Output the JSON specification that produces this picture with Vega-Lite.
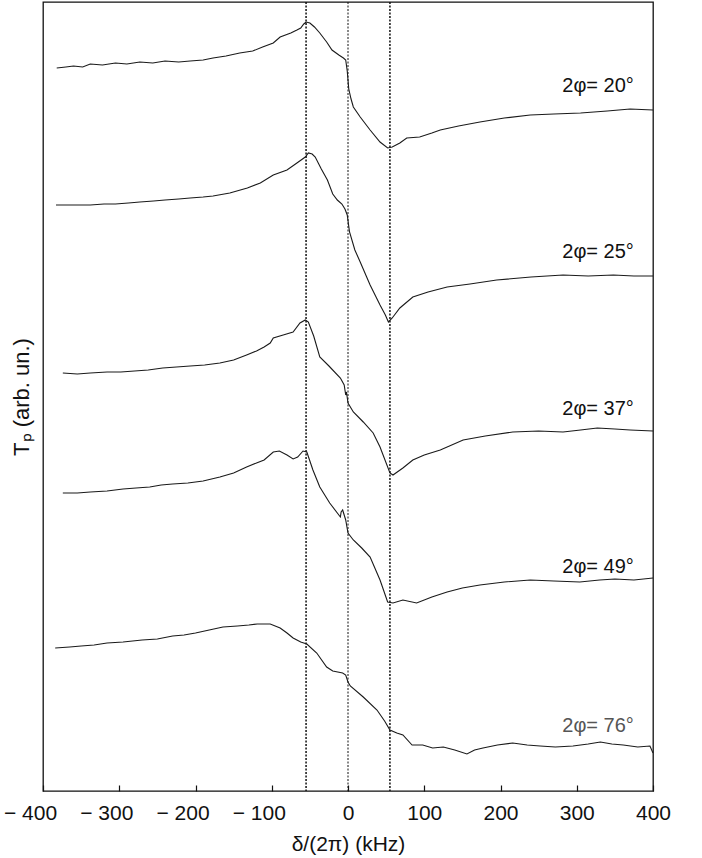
{
  "$schema": "https://vega.github.io/schema/vega-lite/v6.json",
  "width": 610,
  "height": 789,
  "autosize": {"type": "none"},
  "padding": {"left": 43, "top": 2, "right": 49, "bottom": 67},
  "background": "white",
  "view": {"stroke": "#111", "strokeWidth": 1.3},
  "config": {
    "font": "Liberation Sans",
    "axis": {"grid": false, "titleFontWeight": "normal", "titleColor": "#111", "labelColor": "#111"}
  },
  "datasets": {
    "curves": [
      {"s": "20", "x": -382, "y": 723}, {"s": "20", "x": -370, "y": 724}, {"s": "20", "x": -360, "y": 725}, {"s": "20", "x": -348, "y": 724}, {"s": "20", "x": -338, "y": 727}, {"s": "20", "x": -322, "y": 726}, {"s": "20", "x": -305, "y": 728}, {"s": "20", "x": -290, "y": 727}, {"s": "20", "x": -273, "y": 729}, {"s": "20", "x": -256, "y": 728}, {"s": "20", "x": -240, "y": 730}, {"s": "20", "x": -222, "y": 729}, {"s": "20", "x": -207, "y": 730}, {"s": "20", "x": -190, "y": 731}, {"s": "20", "x": -177, "y": 733}, {"s": "20", "x": -160, "y": 735}, {"s": "20", "x": -142, "y": 738}, {"s": "20", "x": -125, "y": 740}, {"s": "20", "x": -112, "y": 744}, {"s": "20", "x": -98, "y": 748}, {"s": "20", "x": -89, "y": 754}, {"s": "20", "x": -75, "y": 758}, {"s": "20", "x": -67, "y": 761}, {"s": "20", "x": -62, "y": 763}, {"s": "20", "x": -58, "y": 767}, {"s": "20", "x": -55, "y": 769}, {"s": "20", "x": -50, "y": 768}, {"s": "20", "x": -44, "y": 764}, {"s": "20", "x": -37, "y": 758}, {"s": "20", "x": -28, "y": 749}, {"s": "20", "x": -21, "y": 741}, {"s": "20", "x": -12, "y": 736}, {"s": "20", "x": -6, "y": 733}, {"s": "20", "x": -3, "y": 731}, {"s": "20", "x": -1, "y": 720}, {"s": "20", "x": 1, "y": 702}, {"s": "20", "x": 4, "y": 692}, {"s": "20", "x": 7, "y": 684}, {"s": "20", "x": 16, "y": 674}, {"s": "20", "x": 29, "y": 661}, {"s": "20", "x": 42, "y": 649}, {"s": "20", "x": 52, "y": 643}, {"s": "20", "x": 58, "y": 644}, {"s": "20", "x": 68, "y": 648}, {"s": "20", "x": 77, "y": 653}, {"s": "20", "x": 94, "y": 654}, {"s": "20", "x": 110, "y": 658}, {"s": "20", "x": 121, "y": 661}, {"s": "20", "x": 145, "y": 665}, {"s": "20", "x": 173, "y": 669}, {"s": "20", "x": 205, "y": 673}, {"s": "20", "x": 239, "y": 676}, {"s": "20", "x": 270, "y": 677}, {"s": "20", "x": 305, "y": 678}, {"s": "20", "x": 340, "y": 680}, {"s": "20", "x": 370, "y": 682}, {"s": "20", "x": 400, "y": 681},

      {"s": "25", "x": -383, "y": 586}, {"s": "25", "x": -360, "y": 586}, {"s": "25", "x": -338, "y": 586}, {"s": "25", "x": -320, "y": 587}, {"s": "25", "x": -305, "y": 587}, {"s": "25", "x": -288, "y": 588}, {"s": "25", "x": -273, "y": 589}, {"s": "25", "x": -255, "y": 590}, {"s": "25", "x": -240, "y": 591}, {"s": "25", "x": -222, "y": 592}, {"s": "25", "x": -207, "y": 593}, {"s": "25", "x": -190, "y": 594}, {"s": "25", "x": -177, "y": 595}, {"s": "25", "x": -155, "y": 598}, {"s": "25", "x": -132, "y": 603}, {"s": "25", "x": -115, "y": 608}, {"s": "25", "x": -98, "y": 616}, {"s": "25", "x": -80, "y": 621}, {"s": "25", "x": -67, "y": 628}, {"s": "25", "x": -56, "y": 634}, {"s": "25", "x": -52, "y": 638}, {"s": "25", "x": -47, "y": 637}, {"s": "25", "x": -43, "y": 634}, {"s": "25", "x": -35, "y": 622}, {"s": "25", "x": -27, "y": 611}, {"s": "25", "x": -20, "y": 597}, {"s": "25", "x": -14, "y": 591}, {"s": "25", "x": -8, "y": 587}, {"s": "25", "x": -4, "y": 582}, {"s": "25", "x": -1, "y": 576}, {"s": "25", "x": 2, "y": 559}, {"s": "25", "x": 9, "y": 541}, {"s": "25", "x": 16, "y": 529}, {"s": "25", "x": 29, "y": 506}, {"s": "25", "x": 42, "y": 486}, {"s": "25", "x": 49, "y": 476}, {"s": "25", "x": 53, "y": 469}, {"s": "25", "x": 58, "y": 473}, {"s": "25", "x": 68, "y": 483}, {"s": "25", "x": 85, "y": 494}, {"s": "25", "x": 105, "y": 499}, {"s": "25", "x": 130, "y": 504}, {"s": "25", "x": 160, "y": 507}, {"s": "25", "x": 195, "y": 511}, {"s": "25", "x": 240, "y": 514}, {"s": "25", "x": 282, "y": 516}, {"s": "25", "x": 315, "y": 515}, {"s": "25", "x": 348, "y": 516}, {"s": "25", "x": 375, "y": 515}, {"s": "25", "x": 400, "y": 515},

      {"s": "37", "x": -374, "y": 418}, {"s": "37", "x": -355, "y": 417}, {"s": "37", "x": -338, "y": 418}, {"s": "37", "x": -316, "y": 419}, {"s": "37", "x": -298, "y": 419}, {"s": "37", "x": -280, "y": 420}, {"s": "37", "x": -262, "y": 421}, {"s": "37", "x": -243, "y": 423}, {"s": "37", "x": -225, "y": 424}, {"s": "37", "x": -207, "y": 425}, {"s": "37", "x": -188, "y": 426}, {"s": "37", "x": -168, "y": 428}, {"s": "37", "x": -150, "y": 431}, {"s": "37", "x": -133, "y": 436}, {"s": "37", "x": -120, "y": 440}, {"s": "37", "x": -110, "y": 444}, {"s": "37", "x": -102, "y": 448}, {"s": "37", "x": -98, "y": 453}, {"s": "37", "x": -85, "y": 456}, {"s": "37", "x": -72, "y": 459}, {"s": "37", "x": -63, "y": 468}, {"s": "37", "x": -56, "y": 471}, {"s": "37", "x": -52, "y": 469}, {"s": "37", "x": -45, "y": 455}, {"s": "37", "x": -37, "y": 434}, {"s": "37", "x": -25, "y": 425}, {"s": "37", "x": -10, "y": 413}, {"s": "37", "x": -5, "y": 406}, {"s": "37", "x": -3, "y": 396}, {"s": "37", "x": -2, "y": 399}, {"s": "37", "x": 0, "y": 388}, {"s": "37", "x": 7, "y": 379}, {"s": "37", "x": 20, "y": 369}, {"s": "37", "x": 33, "y": 358}, {"s": "37", "x": 42, "y": 344}, {"s": "37", "x": 55, "y": 318}, {"s": "37", "x": 59, "y": 316}, {"s": "37", "x": 72, "y": 323}, {"s": "37", "x": 85, "y": 331}, {"s": "37", "x": 100, "y": 336}, {"s": "37", "x": 121, "y": 341}, {"s": "37", "x": 151, "y": 351}, {"s": "37", "x": 180, "y": 355}, {"s": "37", "x": 216, "y": 359}, {"s": "37", "x": 250, "y": 360}, {"s": "37", "x": 282, "y": 359}, {"s": "37", "x": 305, "y": 361}, {"s": "37", "x": 327, "y": 363}, {"s": "37", "x": 350, "y": 362}, {"s": "37", "x": 370, "y": 361}, {"s": "37", "x": 400, "y": 360},

      {"s": "49", "x": -374, "y": 298}, {"s": "49", "x": -355, "y": 298}, {"s": "49", "x": -338, "y": 299}, {"s": "49", "x": -316, "y": 300}, {"s": "49", "x": -295, "y": 302}, {"s": "49", "x": -278, "y": 303}, {"s": "49", "x": -260, "y": 304}, {"s": "49", "x": -245, "y": 306}, {"s": "49", "x": -230, "y": 307}, {"s": "49", "x": -210, "y": 308}, {"s": "49", "x": -190, "y": 310}, {"s": "49", "x": -168, "y": 314}, {"s": "49", "x": -150, "y": 318}, {"s": "49", "x": -133, "y": 324}, {"s": "49", "x": -120, "y": 328}, {"s": "49", "x": -110, "y": 331}, {"s": "49", "x": -98, "y": 339}, {"s": "49", "x": -90, "y": 340}, {"s": "49", "x": -80, "y": 336}, {"s": "49", "x": -72, "y": 332}, {"s": "49", "x": -66, "y": 334}, {"s": "49", "x": -59, "y": 340}, {"s": "49", "x": -54, "y": 339}, {"s": "49", "x": -46, "y": 321}, {"s": "49", "x": -37, "y": 304}, {"s": "49", "x": -24, "y": 288}, {"s": "49", "x": -10, "y": 274}, {"s": "49", "x": -9, "y": 279}, {"s": "49", "x": -7, "y": 281}, {"s": "49", "x": -3, "y": 271}, {"s": "49", "x": 0, "y": 258}, {"s": "49", "x": 7, "y": 251}, {"s": "49", "x": 18, "y": 243}, {"s": "49", "x": 29, "y": 234}, {"s": "49", "x": 42, "y": 211}, {"s": "49", "x": 52, "y": 189}, {"s": "49", "x": 59, "y": 188}, {"s": "49", "x": 72, "y": 191}, {"s": "49", "x": 90, "y": 188}, {"s": "49", "x": 110, "y": 194}, {"s": "49", "x": 130, "y": 199}, {"s": "49", "x": 150, "y": 203}, {"s": "49", "x": 173, "y": 206}, {"s": "49", "x": 205, "y": 209}, {"s": "49", "x": 239, "y": 211}, {"s": "49", "x": 270, "y": 210}, {"s": "49", "x": 304, "y": 209}, {"s": "49", "x": 330, "y": 211}, {"s": "49", "x": 350, "y": 212}, {"s": "49", "x": 375, "y": 211}, {"s": "49", "x": 400, "y": 213},

      {"s": "76", "x": -384, "y": 143}, {"s": "76", "x": -365, "y": 144}, {"s": "76", "x": -350, "y": 145}, {"s": "76", "x": -333, "y": 146}, {"s": "76", "x": -316, "y": 148}, {"s": "76", "x": -295, "y": 149}, {"s": "76", "x": -270, "y": 151}, {"s": "76", "x": -250, "y": 152}, {"s": "76", "x": -230, "y": 155}, {"s": "76", "x": -215, "y": 156}, {"s": "76", "x": -200, "y": 158}, {"s": "76", "x": -182, "y": 161}, {"s": "76", "x": -164, "y": 164}, {"s": "76", "x": -145, "y": 165}, {"s": "76", "x": -130, "y": 166}, {"s": "76", "x": -119, "y": 167}, {"s": "76", "x": -102, "y": 167}, {"s": "76", "x": -89, "y": 163}, {"s": "76", "x": -80, "y": 158}, {"s": "76", "x": -72, "y": 153}, {"s": "76", "x": -62, "y": 149}, {"s": "76", "x": -54, "y": 147}, {"s": "76", "x": -41, "y": 138}, {"s": "76", "x": -28, "y": 124}, {"s": "76", "x": -20, "y": 120}, {"s": "76", "x": -7, "y": 118}, {"s": "76", "x": -3, "y": 116}, {"s": "76", "x": 0, "y": 109}, {"s": "76", "x": 3, "y": 105}, {"s": "76", "x": 20, "y": 94}, {"s": "76", "x": 38, "y": 81}, {"s": "76", "x": 48, "y": 70}, {"s": "76", "x": 55, "y": 61}, {"s": "76", "x": 64, "y": 58}, {"s": "76", "x": 72, "y": 56}, {"s": "76", "x": 84, "y": 46}, {"s": "76", "x": 98, "y": 46}, {"s": "76", "x": 111, "y": 43}, {"s": "76", "x": 125, "y": 44}, {"s": "76", "x": 140, "y": 41}, {"s": "76", "x": 156, "y": 37}, {"s": "76", "x": 166, "y": 41}, {"s": "76", "x": 177, "y": 43}, {"s": "76", "x": 196, "y": 46}, {"s": "76", "x": 216, "y": 48}, {"s": "76", "x": 235, "y": 46}, {"s": "76", "x": 252, "y": 45}, {"s": "76", "x": 272, "y": 44}, {"s": "76", "x": 295, "y": 45}, {"s": "76", "x": 315, "y": 47}, {"s": "76", "x": 331, "y": 49}, {"s": "76", "x": 346, "y": 47}, {"s": "76", "x": 361, "y": 46}, {"s": "76", "x": 380, "y": 44}, {"s": "76", "x": 396, "y": 45}, {"s": "76", "x": 400, "y": 38}
    ],
    "labels": [
      {"x": 281, "y": 699, "t": "2φ= 20°", "gray": false},
      {"x": 281, "y": 533, "t": "2φ= 25°", "gray": false},
      {"x": 281, "y": 376, "t": "2φ= 37°", "gray": false},
      {"x": 281, "y": 218, "t": "2φ= 49°", "gray": false},
      {"x": 281, "y": 59, "t": "2φ= 76°", "gray": true}
    ],
    "refs": [{"x": -55}, {"x": 0}, {"x": 55}]
  },
  "layer": [
    {
      "data": {"name": "refs"},
      "mark": {"type": "rule", "color": "#111", "strokeDash": [2, 1.5]},
      "encoding": {
        "x": {"field": "x", "type": "quantitative", "scale": {"domain": [-400, 400], "nice": false, "zero": false}},
        "strokeWidth": {"condition": {"test": "datum.x == 0", "value": 1}, "value": 1.5}
      }
    },
    {
      "data": {"name": "curves"},
      "mark": {"type": "line", "color": "#1a1a1a", "strokeWidth": 1.1},
      "encoding": {
        "x": {
          "field": "x", "type": "quantitative",
          "scale": {"domain": [-400, 400], "nice": false, "zero": false},
          "axis": {
            "title": "δ/(2π) (kHz)",
            "values": [-400, -300, -200, -100, 0, 100, 200, 300, 400],
            "labelExpr": "datum.value < 0 ? '− ' + abs(datum.value) : datum.label",
            "labelOffset": {"condition": {"test": "datum.value < 0", "value": -13}, "value": 0},
            "labelFlush": false,
            "labelFont": "Liberation Sans Narrow, Arial Narrow, Liberation Sans",
            "labelFontSize": 21,
            "titleFont": "Liberation Sans Narrow, Arial Narrow, Liberation Sans",
            "titleFontSize": 21,
            "tickSize": -6,
            "tickColor": "#111",
            "tickWidth": 1.2,
            "labelPadding": 17,
            "titlePadding": 10,
            "domain": false
          }
        },
        "y": {
          "field": "y", "type": "quantitative",
          "scale": {"domain": [0, 789], "nice": false, "zero": false},
          "axis": {
            "title": "Tₚ (arb. un.)",
            "titleFont": "Liberation Sans Narrow, Arial Narrow, Liberation Sans",
            "labels": false,
            "ticks": false,
            "domain": false,
            "titleFontSize": 22,
            "titlePadding": 10
          }
        },
        "detail": {"field": "s", "type": "nominal"}
      }
    },
    {
      "data": {"name": "labels"},
      "mark": {"type": "text", "align": "left", "baseline": "alphabetic", "fontSize": 20, "font": "Liberation Sans"},
      "encoding": {
        "x": {"field": "x", "type": "quantitative"},
        "y": {"field": "y", "type": "quantitative"},
        "text": {"field": "t"},
        "color": {"condition": {"test": "datum.gray", "value": "#555"}, "value": "#111"}
      }
    }
  ]
}
